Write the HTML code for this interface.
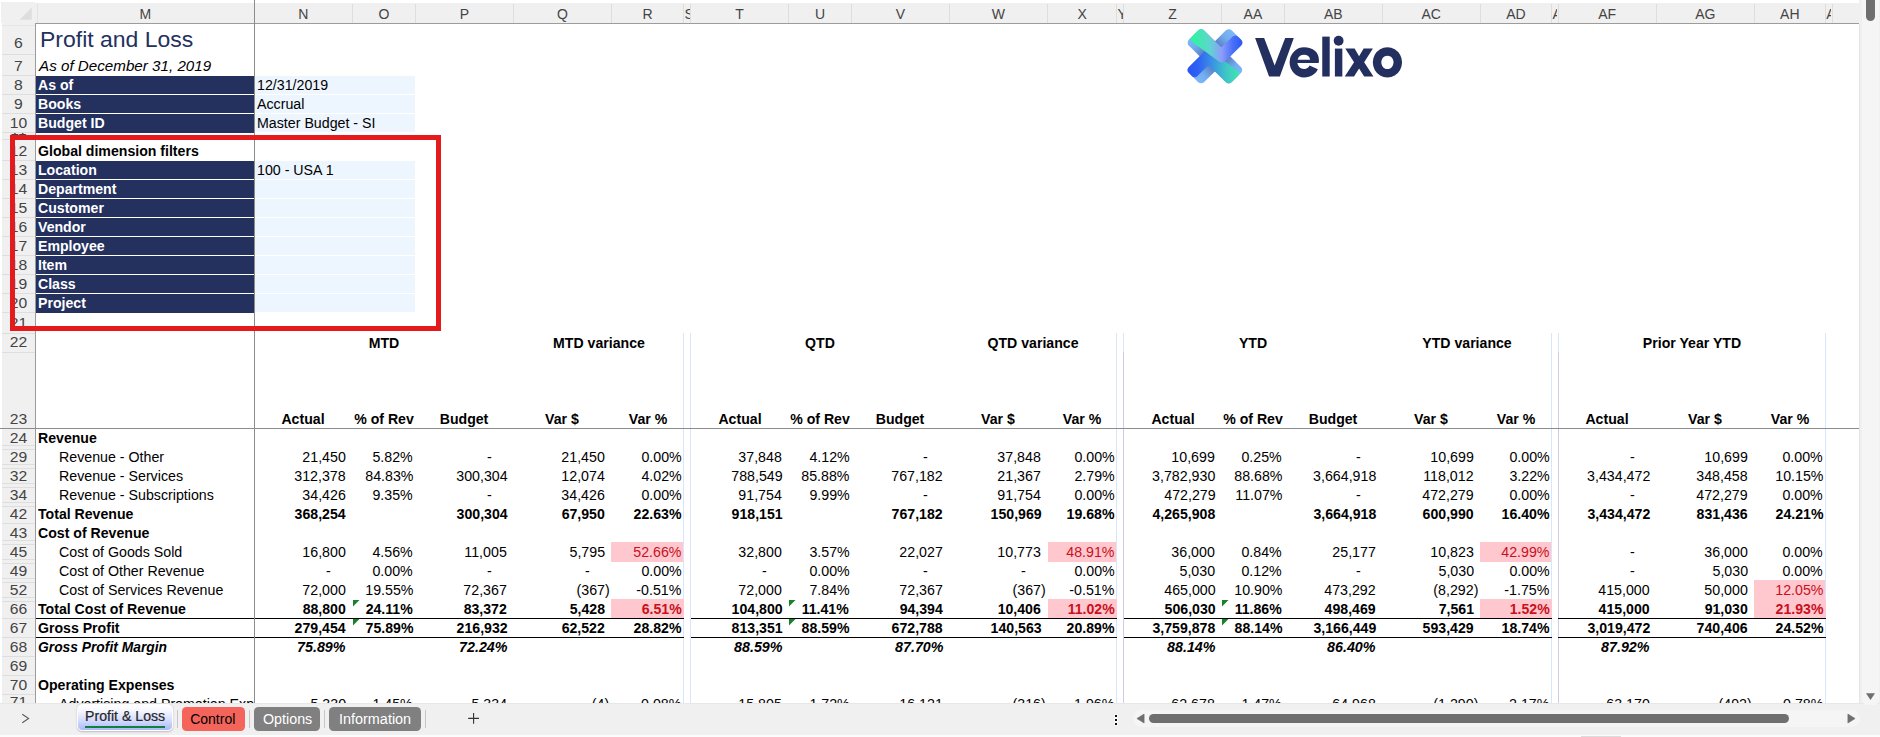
<!DOCTYPE html>
<html><head><meta charset="utf-8"><title>Profit and Loss</title>
<style>
html,body{margin:0;padding:0;background:#fff;}
body{width:1880px;height:737px;position:relative;overflow:hidden;font-family:"Liberation Sans",sans-serif;}
.r{position:absolute;}
.t{position:absolute;white-space:nowrap;}
#sheet{position:absolute;left:0;top:0;width:1858.5px;height:703px;overflow:hidden;}
.ch{position:absolute;top:3px;height:20px;display:flex;justify-content:center;overflow:hidden;font-size:14px;line-height:20px;color:#444;white-space:nowrap;}
.ch{padding-top:0.9px;box-sizing:border-box;}
.rh{position:absolute;left:2px;width:33px;overflow:hidden;font-size:14.4px;color:#444;text-align:center;}
.rh span{position:absolute;left:0px;width:33px;line-height:19px;transform:scaleX(1.09);transform-origin:50% 0;}
</style></head><body>
<div id="sheet">
<div class="r" style="left:36.00px;top:76.00px;width:218.50px;height:18.00px;background:#24315f;"></div>
<div class="r" style="left:255.00px;top:76.10px;width:159.90px;height:17.70px;background:#edf5ff;"></div>
<div class="t" style="top:77.00px;font-size:14px;line-height:16.00px;color:#fff;font-weight:bold;left:38.00px;transform:scaleX(1.008);transform-origin:0 0;">As of</div>
<div class="t" style="top:77.00px;font-size:14px;line-height:16.00px;color:#000;left:256.60px;transform:scaleX(1.015);transform-origin:0 0;">12/31/2019</div>
<div class="r" style="left:36.00px;top:95.00px;width:218.50px;height:18.00px;background:#24315f;"></div>
<div class="r" style="left:255.00px;top:95.10px;width:159.90px;height:17.70px;background:#edf5ff;"></div>
<div class="t" style="top:96.00px;font-size:14px;line-height:16.00px;color:#fff;font-weight:bold;left:38.00px;transform:scaleX(1.008);transform-origin:0 0;">Books</div>
<div class="t" style="top:96.00px;font-size:14px;line-height:16.00px;color:#000;left:256.60px;transform:scaleX(1.015);transform-origin:0 0;">Accrual</div>
<div class="r" style="left:36.00px;top:114.00px;width:218.50px;height:18.60px;background:#24315f;"></div>
<div class="r" style="left:255.00px;top:114.10px;width:159.90px;height:17.70px;background:#edf5ff;"></div>
<div class="t" style="top:115.00px;font-size:14px;line-height:16.00px;color:#fff;font-weight:bold;left:38.00px;transform:scaleX(1.008);transform-origin:0 0;">Budget ID</div>
<div class="t" style="top:115.00px;font-size:14px;line-height:16.00px;color:#000;left:256.60px;transform:scaleX(1.015);transform-origin:0 0;">Master Budget - SI</div>
<div class="r" style="left:36.00px;top:161.00px;width:218.50px;height:18.00px;background:#24315f;"></div>
<div class="r" style="left:255.00px;top:161.10px;width:159.90px;height:17.70px;background:#edf5ff;"></div>
<div class="t" style="top:162.00px;font-size:14px;line-height:16.00px;color:#fff;font-weight:bold;left:38.00px;transform:scaleX(1.008);transform-origin:0 0;">Location</div>
<div class="t" style="top:162.00px;font-size:14px;line-height:16.00px;color:#000;left:256.60px;transform:scaleX(1.015);transform-origin:0 0;">100 - USA 1</div>
<div class="r" style="left:36.00px;top:180.00px;width:218.50px;height:18.00px;background:#24315f;"></div>
<div class="r" style="left:255.00px;top:180.10px;width:159.90px;height:17.70px;background:#edf5ff;"></div>
<div class="t" style="top:181.00px;font-size:14px;line-height:16.00px;color:#fff;font-weight:bold;left:38.00px;transform:scaleX(1.008);transform-origin:0 0;">Department</div>
<div class="r" style="left:36.00px;top:199.00px;width:218.50px;height:18.00px;background:#24315f;"></div>
<div class="r" style="left:255.00px;top:199.10px;width:159.90px;height:17.70px;background:#edf5ff;"></div>
<div class="t" style="top:200.00px;font-size:14px;line-height:16.00px;color:#fff;font-weight:bold;left:38.00px;transform:scaleX(1.008);transform-origin:0 0;">Customer</div>
<div class="r" style="left:36.00px;top:218.00px;width:218.50px;height:18.00px;background:#24315f;"></div>
<div class="r" style="left:255.00px;top:218.10px;width:159.90px;height:17.70px;background:#edf5ff;"></div>
<div class="t" style="top:219.00px;font-size:14px;line-height:16.00px;color:#fff;font-weight:bold;left:38.00px;transform:scaleX(1.008);transform-origin:0 0;">Vendor</div>
<div class="r" style="left:36.00px;top:237.00px;width:218.50px;height:18.00px;background:#24315f;"></div>
<div class="r" style="left:255.00px;top:237.10px;width:159.90px;height:17.70px;background:#edf5ff;"></div>
<div class="t" style="top:238.00px;font-size:14px;line-height:16.00px;color:#fff;font-weight:bold;left:38.00px;transform:scaleX(1.008);transform-origin:0 0;">Employee</div>
<div class="r" style="left:36.00px;top:256.00px;width:218.50px;height:18.00px;background:#24315f;"></div>
<div class="r" style="left:255.00px;top:256.10px;width:159.90px;height:17.70px;background:#edf5ff;"></div>
<div class="t" style="top:257.00px;font-size:14px;line-height:16.00px;color:#fff;font-weight:bold;left:38.00px;transform:scaleX(1.008);transform-origin:0 0;">Item</div>
<div class="r" style="left:36.00px;top:275.00px;width:218.50px;height:18.00px;background:#24315f;"></div>
<div class="r" style="left:255.00px;top:275.10px;width:159.90px;height:17.70px;background:#edf5ff;"></div>
<div class="t" style="top:276.00px;font-size:14px;line-height:16.00px;color:#fff;font-weight:bold;left:38.00px;transform:scaleX(1.008);transform-origin:0 0;">Class</div>
<div class="r" style="left:36.00px;top:294.00px;width:218.50px;height:18.60px;background:#24315f;"></div>
<div class="r" style="left:255.00px;top:294.10px;width:159.90px;height:17.70px;background:#edf5ff;"></div>
<div class="t" style="top:295.00px;font-size:14px;line-height:16.00px;color:#fff;font-weight:bold;left:38.00px;transform:scaleX(1.008);transform-origin:0 0;">Project</div>
<div class="t" style="top:28.20px;font-size:21.3px;line-height:24.00px;color:#24315f;left:40.30px;transform:scaleX(1.079);transform-origin:0 0;">Profit and Loss</div>
<div class="t" style="top:58.00px;font-size:14.5px;line-height:16.00px;color:#000;font-style:italic;left:38.80px;transform:scaleX(1.047);transform-origin:0 0;">As of December 31, 2019</div>
<div class="t" style="top:142.70px;font-size:14px;line-height:16.00px;color:#000;font-weight:bold;left:38.00px;transform:scaleX(1.008);transform-origin:0 0;">Global dimension filters</div>
<div class="r" style="left:683.00px;top:333.00px;width:1.00px;height:387.00px;background:#d9e5fb;"></div>
<div class="r" style="left:689.80px;top:333.00px;width:1.00px;height:387.00px;background:#d9e5fb;"></div>
<div class="r" style="left:1115.90px;top:333.00px;width:1.00px;height:387.00px;background:#d9e5fb;"></div>
<div class="r" style="left:1122.80px;top:333.00px;width:1.00px;height:387.00px;background:#d9e5fb;"></div>
<div class="r" style="left:1550.90px;top:333.00px;width:1.00px;height:387.00px;background:#d9e5fb;"></div>
<div class="r" style="left:1557.50px;top:333.00px;width:1.00px;height:387.00px;background:#d9e5fb;"></div>
<div class="r" style="left:1824.80px;top:333.00px;width:1.00px;height:387.00px;background:#d9e5fb;"></div>
<div class="r" style="left:1122.80px;top:352.00px;width:1.00px;height:368.00px;background:#c9cee9;"></div>
<div class="r" style="left:1557.50px;top:352.00px;width:1.00px;height:368.00px;background:#c9cee9;"></div>
<div class="t" style="top:334.50px;font-size:14px;line-height:16.00px;color:#000;font-weight:bold;left:84.00px;width:600px;text-align:center;transform:scaleX(1.008);transform-origin:50% 0;">MTD</div>
<div class="t" style="top:334.50px;font-size:14px;line-height:16.00px;color:#000;font-weight:bold;left:298.60px;width:600px;text-align:center;transform:scaleX(1.008);transform-origin:50% 0;">MTD variance</div>
<div class="t" style="top:334.50px;font-size:14px;line-height:16.00px;color:#000;font-weight:bold;left:519.95px;width:600px;text-align:center;transform:scaleX(1.008);transform-origin:50% 0;">QTD</div>
<div class="t" style="top:334.50px;font-size:14px;line-height:16.00px;color:#000;font-weight:bold;left:733.00px;width:600px;text-align:center;transform:scaleX(1.008);transform-origin:50% 0;">QTD variance</div>
<div class="t" style="top:334.50px;font-size:14px;line-height:16.00px;color:#000;font-weight:bold;left:952.85px;width:600px;text-align:center;transform:scaleX(1.008);transform-origin:50% 0;">YTD</div>
<div class="t" style="top:334.50px;font-size:14px;line-height:16.00px;color:#000;font-weight:bold;left:1166.90px;width:600px;text-align:center;transform:scaleX(1.008);transform-origin:50% 0;">YTD variance</div>
<div class="t" style="top:334.50px;font-size:14px;line-height:16.00px;color:#000;font-weight:bold;left:1391.80px;width:600px;text-align:center;transform:scaleX(1.008);transform-origin:50% 0;">Prior Year YTD</div>
<div class="t" style="top:411.00px;font-size:14px;line-height:16.00px;color:#000;font-weight:bold;left:3.40px;width:600px;text-align:center;transform:scaleX(1.008);transform-origin:50% 0;">Actual</div>
<div class="t" style="top:411.00px;font-size:14px;line-height:16.00px;color:#000;font-weight:bold;left:83.85px;width:600px;text-align:center;transform:scaleX(1.008);transform-origin:50% 0;">% of Rev</div>
<div class="t" style="top:411.00px;font-size:14px;line-height:16.00px;color:#000;font-weight:bold;left:164.45px;width:600px;text-align:center;transform:scaleX(1.008);transform-origin:50% 0;">Budget</div>
<div class="t" style="top:411.00px;font-size:14px;line-height:16.00px;color:#000;font-weight:bold;left:262.45px;width:600px;text-align:center;transform:scaleX(1.008);transform-origin:50% 0;">Var $</div>
<div class="t" style="top:411.00px;font-size:14px;line-height:16.00px;color:#000;font-weight:bold;left:347.55px;width:600px;text-align:center;transform:scaleX(1.008);transform-origin:50% 0;">Var %</div>
<div class="t" style="top:411.00px;font-size:14px;line-height:16.00px;color:#000;font-weight:bold;left:439.50px;width:600px;text-align:center;transform:scaleX(1.008);transform-origin:50% 0;">Actual</div>
<div class="t" style="top:411.00px;font-size:14px;line-height:16.00px;color:#000;font-weight:bold;left:520.00px;width:600px;text-align:center;transform:scaleX(1.008);transform-origin:50% 0;">% of Rev</div>
<div class="t" style="top:411.00px;font-size:14px;line-height:16.00px;color:#000;font-weight:bold;left:600.45px;width:600px;text-align:center;transform:scaleX(1.008);transform-origin:50% 0;">Budget</div>
<div class="t" style="top:411.00px;font-size:14px;line-height:16.00px;color:#000;font-weight:bold;left:698.45px;width:600px;text-align:center;transform:scaleX(1.008);transform-origin:50% 0;">Var $</div>
<div class="t" style="top:411.00px;font-size:14px;line-height:16.00px;color:#000;font-weight:bold;left:782.05px;width:600px;text-align:center;transform:scaleX(1.008);transform-origin:50% 0;">Var %</div>
<div class="t" style="top:411.00px;font-size:14px;line-height:16.00px;color:#000;font-weight:bold;left:872.50px;width:600px;text-align:center;transform:scaleX(1.008);transform-origin:50% 0;">Actual</div>
<div class="t" style="top:411.00px;font-size:14px;line-height:16.00px;color:#000;font-weight:bold;left:952.90px;width:600px;text-align:center;transform:scaleX(1.008);transform-origin:50% 0;">% of Rev</div>
<div class="t" style="top:411.00px;font-size:14px;line-height:16.00px;color:#000;font-weight:bold;left:1033.25px;width:600px;text-align:center;transform:scaleX(1.008);transform-origin:50% 0;">Budget</div>
<div class="t" style="top:411.00px;font-size:14px;line-height:16.00px;color:#000;font-weight:bold;left:1131.25px;width:600px;text-align:center;transform:scaleX(1.008);transform-origin:50% 0;">Var $</div>
<div class="t" style="top:411.00px;font-size:14px;line-height:16.00px;color:#000;font-weight:bold;left:1215.95px;width:600px;text-align:center;transform:scaleX(1.008);transform-origin:50% 0;">Var %</div>
<div class="t" style="top:411.00px;font-size:14px;line-height:16.00px;color:#000;font-weight:bold;left:1307.25px;width:600px;text-align:center;transform:scaleX(1.008);transform-origin:50% 0;">Actual</div>
<div class="t" style="top:411.00px;font-size:14px;line-height:16.00px;color:#000;font-weight:bold;left:1405.30px;width:600px;text-align:center;transform:scaleX(1.008);transform-origin:50% 0;">Var $</div>
<div class="t" style="top:411.00px;font-size:14px;line-height:16.00px;color:#000;font-weight:bold;left:1489.85px;width:600px;text-align:center;transform:scaleX(1.008);transform-origin:50% 0;">Var %</div>
<div class="t" style="top:430.00px;font-size:14px;line-height:16.00px;color:#000;font-weight:bold;left:38.00px;transform:scaleX(1.008);transform-origin:0 0;">Revenue</div>
<div class="t" style="top:449.00px;font-size:14px;line-height:16.00px;color:#000;left:59.00px;transform:scaleX(1.015);transform-origin:0 0;">Revenue - Other</div>
<div class="t" style="top:449.00px;font-size:14px;line-height:16.00px;color:#000;right:1512.60px;transform:scaleX(1.015);transform-origin:100% 0;">21,450</div>
<div class="t" style="top:449.00px;font-size:14px;line-height:16.00px;color:#000;right:1445.40px;transform:scaleX(1.015);transform-origin:100% 0;">5.82%</div>
<div class="t" style="top:449.00px;font-size:14px;line-height:16.00px;color:#000;right:1367.00px;transform:scaleX(1.015);transform-origin:100% 0;">-</div>
<div class="t" style="top:449.00px;font-size:14px;line-height:16.00px;color:#000;right:1253.50px;transform:scaleX(1.015);transform-origin:100% 0;">21,450</div>
<div class="t" style="top:449.00px;font-size:14px;line-height:16.00px;color:#000;right:1177.10px;transform:scaleX(1.015);transform-origin:100% 0;">0.00%</div>
<div class="t" style="top:449.00px;font-size:14px;line-height:16.00px;color:#000;right:1076.40px;transform:scaleX(1.015);transform-origin:100% 0;">37,848</div>
<div class="t" style="top:449.00px;font-size:14px;line-height:16.00px;color:#000;right:1009.30px;transform:scaleX(1.015);transform-origin:100% 0;">4.12%</div>
<div class="t" style="top:449.00px;font-size:14px;line-height:16.00px;color:#000;right:931.10px;transform:scaleX(1.015);transform-origin:100% 0;">-</div>
<div class="t" style="top:449.00px;font-size:14px;line-height:16.00px;color:#000;right:817.40px;transform:scaleX(1.015);transform-origin:100% 0;">37,848</div>
<div class="t" style="top:449.00px;font-size:14px;line-height:16.00px;color:#000;right:744.20px;transform:scaleX(1.015);transform-origin:100% 0;">0.00%</div>
<div class="t" style="top:449.00px;font-size:14px;line-height:16.00px;color:#000;right:643.40px;transform:scaleX(1.015);transform-origin:100% 0;">10,699</div>
<div class="t" style="top:449.00px;font-size:14px;line-height:16.00px;color:#000;right:576.50px;transform:scaleX(1.015);transform-origin:100% 0;">0.25%</div>
<div class="t" style="top:449.00px;font-size:14px;line-height:16.00px;color:#000;right:498.30px;transform:scaleX(1.015);transform-origin:100% 0;">-</div>
<div class="t" style="top:449.00px;font-size:14px;line-height:16.00px;color:#000;right:384.60px;transform:scaleX(1.015);transform-origin:100% 0;">10,699</div>
<div class="t" style="top:449.00px;font-size:14px;line-height:16.00px;color:#000;right:309.20px;transform:scaleX(1.015);transform-origin:100% 0;">0.00%</div>
<div class="t" style="top:449.00px;font-size:14px;line-height:16.00px;color:#000;right:224.20px;transform:scaleX(1.015);transform-origin:100% 0;">-</div>
<div class="t" style="top:449.00px;font-size:14px;line-height:16.00px;color:#000;right:110.60px;transform:scaleX(1.015);transform-origin:100% 0;">10,699</div>
<div class="t" style="top:449.00px;font-size:14px;line-height:16.00px;color:#000;right:35.40px;transform:scaleX(1.015);transform-origin:100% 0;">0.00%</div>
<div class="t" style="top:468.00px;font-size:14px;line-height:16.00px;color:#000;left:59.00px;transform:scaleX(1.015);transform-origin:0 0;">Revenue - Services</div>
<div class="t" style="top:468.00px;font-size:14px;line-height:16.00px;color:#000;right:1512.60px;transform:scaleX(1.015);transform-origin:100% 0;">312,378</div>
<div class="t" style="top:468.00px;font-size:14px;line-height:16.00px;color:#000;right:1445.40px;transform:scaleX(1.015);transform-origin:100% 0;">84.83%</div>
<div class="t" style="top:468.00px;font-size:14px;line-height:16.00px;color:#000;right:1351.40px;transform:scaleX(1.015);transform-origin:100% 0;">300,304</div>
<div class="t" style="top:468.00px;font-size:14px;line-height:16.00px;color:#000;right:1253.50px;transform:scaleX(1.015);transform-origin:100% 0;">12,074</div>
<div class="t" style="top:468.00px;font-size:14px;line-height:16.00px;color:#000;right:1177.10px;transform:scaleX(1.015);transform-origin:100% 0;">4.02%</div>
<div class="t" style="top:468.00px;font-size:14px;line-height:16.00px;color:#000;right:1076.40px;transform:scaleX(1.015);transform-origin:100% 0;">788,549</div>
<div class="t" style="top:468.00px;font-size:14px;line-height:16.00px;color:#000;right:1009.30px;transform:scaleX(1.015);transform-origin:100% 0;">85.88%</div>
<div class="t" style="top:468.00px;font-size:14px;line-height:16.00px;color:#000;right:915.50px;transform:scaleX(1.015);transform-origin:100% 0;">767,182</div>
<div class="t" style="top:468.00px;font-size:14px;line-height:16.00px;color:#000;right:817.40px;transform:scaleX(1.015);transform-origin:100% 0;">21,367</div>
<div class="t" style="top:468.00px;font-size:14px;line-height:16.00px;color:#000;right:744.20px;transform:scaleX(1.015);transform-origin:100% 0;">2.79%</div>
<div class="t" style="top:468.00px;font-size:14px;line-height:16.00px;color:#000;right:643.40px;transform:scaleX(1.015);transform-origin:100% 0;">3,782,930</div>
<div class="t" style="top:468.00px;font-size:14px;line-height:16.00px;color:#000;right:576.50px;transform:scaleX(1.015);transform-origin:100% 0;">88.68%</div>
<div class="t" style="top:468.00px;font-size:14px;line-height:16.00px;color:#000;right:482.70px;transform:scaleX(1.015);transform-origin:100% 0;">3,664,918</div>
<div class="t" style="top:468.00px;font-size:14px;line-height:16.00px;color:#000;right:384.60px;transform:scaleX(1.015);transform-origin:100% 0;">118,012</div>
<div class="t" style="top:468.00px;font-size:14px;line-height:16.00px;color:#000;right:309.20px;transform:scaleX(1.015);transform-origin:100% 0;">3.22%</div>
<div class="t" style="top:468.00px;font-size:14px;line-height:16.00px;color:#000;right:208.60px;transform:scaleX(1.015);transform-origin:100% 0;">3,434,472</div>
<div class="t" style="top:468.00px;font-size:14px;line-height:16.00px;color:#000;right:110.60px;transform:scaleX(1.015);transform-origin:100% 0;">348,458</div>
<div class="t" style="top:468.00px;font-size:14px;line-height:16.00px;color:#000;right:35.40px;transform:scaleX(1.015);transform-origin:100% 0;">10.15%</div>
<div class="t" style="top:487.00px;font-size:14px;line-height:16.00px;color:#000;left:59.00px;transform:scaleX(1.015);transform-origin:0 0;">Revenue - Subscriptions</div>
<div class="t" style="top:487.00px;font-size:14px;line-height:16.00px;color:#000;right:1512.60px;transform:scaleX(1.015);transform-origin:100% 0;">34,426</div>
<div class="t" style="top:487.00px;font-size:14px;line-height:16.00px;color:#000;right:1445.40px;transform:scaleX(1.015);transform-origin:100% 0;">9.35%</div>
<div class="t" style="top:487.00px;font-size:14px;line-height:16.00px;color:#000;right:1367.00px;transform:scaleX(1.015);transform-origin:100% 0;">-</div>
<div class="t" style="top:487.00px;font-size:14px;line-height:16.00px;color:#000;right:1253.50px;transform:scaleX(1.015);transform-origin:100% 0;">34,426</div>
<div class="t" style="top:487.00px;font-size:14px;line-height:16.00px;color:#000;right:1177.10px;transform:scaleX(1.015);transform-origin:100% 0;">0.00%</div>
<div class="t" style="top:487.00px;font-size:14px;line-height:16.00px;color:#000;right:1076.40px;transform:scaleX(1.015);transform-origin:100% 0;">91,754</div>
<div class="t" style="top:487.00px;font-size:14px;line-height:16.00px;color:#000;right:1009.30px;transform:scaleX(1.015);transform-origin:100% 0;">9.99%</div>
<div class="t" style="top:487.00px;font-size:14px;line-height:16.00px;color:#000;right:931.10px;transform:scaleX(1.015);transform-origin:100% 0;">-</div>
<div class="t" style="top:487.00px;font-size:14px;line-height:16.00px;color:#000;right:817.40px;transform:scaleX(1.015);transform-origin:100% 0;">91,754</div>
<div class="t" style="top:487.00px;font-size:14px;line-height:16.00px;color:#000;right:744.20px;transform:scaleX(1.015);transform-origin:100% 0;">0.00%</div>
<div class="t" style="top:487.00px;font-size:14px;line-height:16.00px;color:#000;right:643.40px;transform:scaleX(1.015);transform-origin:100% 0;">472,279</div>
<div class="t" style="top:487.00px;font-size:14px;line-height:16.00px;color:#000;right:576.50px;transform:scaleX(1.015);transform-origin:100% 0;">11.07%</div>
<div class="t" style="top:487.00px;font-size:14px;line-height:16.00px;color:#000;right:498.30px;transform:scaleX(1.015);transform-origin:100% 0;">-</div>
<div class="t" style="top:487.00px;font-size:14px;line-height:16.00px;color:#000;right:384.60px;transform:scaleX(1.015);transform-origin:100% 0;">472,279</div>
<div class="t" style="top:487.00px;font-size:14px;line-height:16.00px;color:#000;right:309.20px;transform:scaleX(1.015);transform-origin:100% 0;">0.00%</div>
<div class="t" style="top:487.00px;font-size:14px;line-height:16.00px;color:#000;right:224.20px;transform:scaleX(1.015);transform-origin:100% 0;">-</div>
<div class="t" style="top:487.00px;font-size:14px;line-height:16.00px;color:#000;right:110.60px;transform:scaleX(1.015);transform-origin:100% 0;">472,279</div>
<div class="t" style="top:487.00px;font-size:14px;line-height:16.00px;color:#000;right:35.40px;transform:scaleX(1.015);transform-origin:100% 0;">0.00%</div>
<div class="t" style="top:506.00px;font-size:14px;line-height:16.00px;color:#000;font-weight:bold;left:38.00px;transform:scaleX(1.008);transform-origin:0 0;">Total Revenue</div>
<div class="t" style="top:506.00px;font-size:14px;line-height:16.00px;color:#000;font-weight:bold;right:1512.60px;transform:scaleX(1.008);transform-origin:100% 0;">368,254</div>
<div class="t" style="top:506.00px;font-size:14px;line-height:16.00px;color:#000;font-weight:bold;right:1351.40px;transform:scaleX(1.008);transform-origin:100% 0;">300,304</div>
<div class="t" style="top:506.00px;font-size:14px;line-height:16.00px;color:#000;font-weight:bold;right:1253.50px;transform:scaleX(1.008);transform-origin:100% 0;">67,950</div>
<div class="t" style="top:506.00px;font-size:14px;line-height:16.00px;color:#000;font-weight:bold;right:1177.10px;transform:scaleX(1.008);transform-origin:100% 0;">22.63%</div>
<div class="t" style="top:506.00px;font-size:14px;line-height:16.00px;color:#000;font-weight:bold;right:1076.40px;transform:scaleX(1.008);transform-origin:100% 0;">918,151</div>
<div class="t" style="top:506.00px;font-size:14px;line-height:16.00px;color:#000;font-weight:bold;right:915.50px;transform:scaleX(1.008);transform-origin:100% 0;">767,182</div>
<div class="t" style="top:506.00px;font-size:14px;line-height:16.00px;color:#000;font-weight:bold;right:817.40px;transform:scaleX(1.008);transform-origin:100% 0;">150,969</div>
<div class="t" style="top:506.00px;font-size:14px;line-height:16.00px;color:#000;font-weight:bold;right:744.20px;transform:scaleX(1.008);transform-origin:100% 0;">19.68%</div>
<div class="t" style="top:506.00px;font-size:14px;line-height:16.00px;color:#000;font-weight:bold;right:643.40px;transform:scaleX(1.008);transform-origin:100% 0;">4,265,908</div>
<div class="t" style="top:506.00px;font-size:14px;line-height:16.00px;color:#000;font-weight:bold;right:482.70px;transform:scaleX(1.008);transform-origin:100% 0;">3,664,918</div>
<div class="t" style="top:506.00px;font-size:14px;line-height:16.00px;color:#000;font-weight:bold;right:384.60px;transform:scaleX(1.008);transform-origin:100% 0;">600,990</div>
<div class="t" style="top:506.00px;font-size:14px;line-height:16.00px;color:#000;font-weight:bold;right:309.20px;transform:scaleX(1.008);transform-origin:100% 0;">16.40%</div>
<div class="t" style="top:506.00px;font-size:14px;line-height:16.00px;color:#000;font-weight:bold;right:208.60px;transform:scaleX(1.008);transform-origin:100% 0;">3,434,472</div>
<div class="t" style="top:506.00px;font-size:14px;line-height:16.00px;color:#000;font-weight:bold;right:110.60px;transform:scaleX(1.008);transform-origin:100% 0;">831,436</div>
<div class="t" style="top:506.00px;font-size:14px;line-height:16.00px;color:#000;font-weight:bold;right:35.40px;transform:scaleX(1.008);transform-origin:100% 0;">24.21%</div>
<div class="t" style="top:525.00px;font-size:14px;line-height:16.00px;color:#000;font-weight:bold;left:38.00px;transform:scaleX(1.008);transform-origin:0 0;">Cost of Revenue</div>
<div class="t" style="top:544.00px;font-size:14px;line-height:16.00px;color:#000;left:59.00px;transform:scaleX(1.015);transform-origin:0 0;">Cost of Goods Sold</div>
<div class="t" style="top:544.00px;font-size:14px;line-height:16.00px;color:#000;right:1512.60px;transform:scaleX(1.015);transform-origin:100% 0;">16,800</div>
<div class="t" style="top:544.00px;font-size:14px;line-height:16.00px;color:#000;right:1445.40px;transform:scaleX(1.015);transform-origin:100% 0;">4.56%</div>
<div class="t" style="top:544.00px;font-size:14px;line-height:16.00px;color:#000;right:1351.40px;transform:scaleX(1.015);transform-origin:100% 0;">11,005</div>
<div class="t" style="top:544.00px;font-size:14px;line-height:16.00px;color:#000;right:1253.50px;transform:scaleX(1.015);transform-origin:100% 0;">5,795</div>
<div class="r" style="left:611.40px;top:542.10px;width:71.80px;height:19.70px;background:#ffc7ce;"></div>
<div class="t" style="top:544.00px;font-size:14px;line-height:16.00px;color:#c9101c;right:1177.10px;transform:scaleX(1.015);transform-origin:100% 0;">52.66%</div>
<div class="t" style="top:544.00px;font-size:14px;line-height:16.00px;color:#000;right:1076.40px;transform:scaleX(1.015);transform-origin:100% 0;">32,800</div>
<div class="t" style="top:544.00px;font-size:14px;line-height:16.00px;color:#000;right:1009.30px;transform:scaleX(1.015);transform-origin:100% 0;">3.57%</div>
<div class="t" style="top:544.00px;font-size:14px;line-height:16.00px;color:#000;right:915.50px;transform:scaleX(1.015);transform-origin:100% 0;">22,027</div>
<div class="t" style="top:544.00px;font-size:14px;line-height:16.00px;color:#000;right:817.40px;transform:scaleX(1.015);transform-origin:100% 0;">10,773</div>
<div class="r" style="left:1047.50px;top:542.10px;width:68.60px;height:19.70px;background:#ffc7ce;"></div>
<div class="t" style="top:544.00px;font-size:14px;line-height:16.00px;color:#c9101c;right:744.20px;transform:scaleX(1.015);transform-origin:100% 0;">48.91%</div>
<div class="t" style="top:544.00px;font-size:14px;line-height:16.00px;color:#000;right:643.40px;transform:scaleX(1.015);transform-origin:100% 0;">36,000</div>
<div class="t" style="top:544.00px;font-size:14px;line-height:16.00px;color:#000;right:576.50px;transform:scaleX(1.015);transform-origin:100% 0;">0.84%</div>
<div class="t" style="top:544.00px;font-size:14px;line-height:16.00px;color:#000;right:482.70px;transform:scaleX(1.015);transform-origin:100% 0;">25,177</div>
<div class="t" style="top:544.00px;font-size:14px;line-height:16.00px;color:#000;right:384.60px;transform:scaleX(1.015);transform-origin:100% 0;">10,823</div>
<div class="r" style="left:1480.30px;top:542.10px;width:70.80px;height:19.70px;background:#ffc7ce;"></div>
<div class="t" style="top:544.00px;font-size:14px;line-height:16.00px;color:#c9101c;right:309.20px;transform:scaleX(1.015);transform-origin:100% 0;">42.99%</div>
<div class="t" style="top:544.00px;font-size:14px;line-height:16.00px;color:#000;right:224.20px;transform:scaleX(1.015);transform-origin:100% 0;">-</div>
<div class="t" style="top:544.00px;font-size:14px;line-height:16.00px;color:#000;right:110.60px;transform:scaleX(1.015);transform-origin:100% 0;">36,000</div>
<div class="t" style="top:544.00px;font-size:14px;line-height:16.00px;color:#000;right:35.40px;transform:scaleX(1.015);transform-origin:100% 0;">0.00%</div>
<div class="t" style="top:563.00px;font-size:14px;line-height:16.00px;color:#000;left:59.00px;transform:scaleX(1.015);transform-origin:0 0;">Cost of Other Revenue</div>
<div class="t" style="top:563.00px;font-size:14px;line-height:16.00px;color:#000;right:1528.20px;transform:scaleX(1.015);transform-origin:100% 0;">-</div>
<div class="t" style="top:563.00px;font-size:14px;line-height:16.00px;color:#000;right:1445.40px;transform:scaleX(1.015);transform-origin:100% 0;">0.00%</div>
<div class="t" style="top:563.00px;font-size:14px;line-height:16.00px;color:#000;right:1367.00px;transform:scaleX(1.015);transform-origin:100% 0;">-</div>
<div class="t" style="top:563.00px;font-size:14px;line-height:16.00px;color:#000;right:1269.10px;transform:scaleX(1.015);transform-origin:100% 0;">-</div>
<div class="t" style="top:563.00px;font-size:14px;line-height:16.00px;color:#000;right:1177.10px;transform:scaleX(1.015);transform-origin:100% 0;">0.00%</div>
<div class="t" style="top:563.00px;font-size:14px;line-height:16.00px;color:#000;right:1092.00px;transform:scaleX(1.015);transform-origin:100% 0;">-</div>
<div class="t" style="top:563.00px;font-size:14px;line-height:16.00px;color:#000;right:1009.30px;transform:scaleX(1.015);transform-origin:100% 0;">0.00%</div>
<div class="t" style="top:563.00px;font-size:14px;line-height:16.00px;color:#000;right:931.10px;transform:scaleX(1.015);transform-origin:100% 0;">-</div>
<div class="t" style="top:563.00px;font-size:14px;line-height:16.00px;color:#000;right:833.00px;transform:scaleX(1.015);transform-origin:100% 0;">-</div>
<div class="t" style="top:563.00px;font-size:14px;line-height:16.00px;color:#000;right:744.20px;transform:scaleX(1.015);transform-origin:100% 0;">0.00%</div>
<div class="t" style="top:563.00px;font-size:14px;line-height:16.00px;color:#000;right:643.40px;transform:scaleX(1.015);transform-origin:100% 0;">5,030</div>
<div class="t" style="top:563.00px;font-size:14px;line-height:16.00px;color:#000;right:576.50px;transform:scaleX(1.015);transform-origin:100% 0;">0.12%</div>
<div class="t" style="top:563.00px;font-size:14px;line-height:16.00px;color:#000;right:498.30px;transform:scaleX(1.015);transform-origin:100% 0;">-</div>
<div class="t" style="top:563.00px;font-size:14px;line-height:16.00px;color:#000;right:384.60px;transform:scaleX(1.015);transform-origin:100% 0;">5,030</div>
<div class="t" style="top:563.00px;font-size:14px;line-height:16.00px;color:#000;right:309.20px;transform:scaleX(1.015);transform-origin:100% 0;">0.00%</div>
<div class="t" style="top:563.00px;font-size:14px;line-height:16.00px;color:#000;right:224.20px;transform:scaleX(1.015);transform-origin:100% 0;">-</div>
<div class="t" style="top:563.00px;font-size:14px;line-height:16.00px;color:#000;right:110.60px;transform:scaleX(1.015);transform-origin:100% 0;">5,030</div>
<div class="t" style="top:563.00px;font-size:14px;line-height:16.00px;color:#000;right:35.40px;transform:scaleX(1.015);transform-origin:100% 0;">0.00%</div>
<div class="t" style="top:582.00px;font-size:14px;line-height:16.00px;color:#000;left:59.00px;transform:scaleX(1.015);transform-origin:0 0;">Cost of Services Revenue</div>
<div class="t" style="top:582.00px;font-size:14px;line-height:16.00px;color:#000;right:1512.60px;transform:scaleX(1.015);transform-origin:100% 0;">72,000</div>
<div class="t" style="top:582.00px;font-size:14px;line-height:16.00px;color:#000;right:1445.40px;transform:scaleX(1.015);transform-origin:100% 0;">19.55%</div>
<div class="t" style="top:582.00px;font-size:14px;line-height:16.00px;color:#000;right:1351.40px;transform:scaleX(1.015);transform-origin:100% 0;">72,367</div>
<div class="t" style="top:582.00px;font-size:14px;line-height:16.00px;color:#000;right:1249.30px;transform:scaleX(1.015);transform-origin:100% 0;">(367)</div>
<div class="t" style="top:582.00px;font-size:14px;line-height:16.00px;color:#000;right:1177.10px;transform:scaleX(1.015);transform-origin:100% 0;">-0.51%</div>
<div class="t" style="top:582.00px;font-size:14px;line-height:16.00px;color:#000;right:1076.40px;transform:scaleX(1.015);transform-origin:100% 0;">72,000</div>
<div class="t" style="top:582.00px;font-size:14px;line-height:16.00px;color:#000;right:1009.30px;transform:scaleX(1.015);transform-origin:100% 0;">7.84%</div>
<div class="t" style="top:582.00px;font-size:14px;line-height:16.00px;color:#000;right:915.50px;transform:scaleX(1.015);transform-origin:100% 0;">72,367</div>
<div class="t" style="top:582.00px;font-size:14px;line-height:16.00px;color:#000;right:813.20px;transform:scaleX(1.015);transform-origin:100% 0;">(367)</div>
<div class="t" style="top:582.00px;font-size:14px;line-height:16.00px;color:#000;right:744.20px;transform:scaleX(1.015);transform-origin:100% 0;">-0.51%</div>
<div class="t" style="top:582.00px;font-size:14px;line-height:16.00px;color:#000;right:643.40px;transform:scaleX(1.015);transform-origin:100% 0;">465,000</div>
<div class="t" style="top:582.00px;font-size:14px;line-height:16.00px;color:#000;right:576.50px;transform:scaleX(1.015);transform-origin:100% 0;">10.90%</div>
<div class="t" style="top:582.00px;font-size:14px;line-height:16.00px;color:#000;right:482.70px;transform:scaleX(1.015);transform-origin:100% 0;">473,292</div>
<div class="t" style="top:582.00px;font-size:14px;line-height:16.00px;color:#000;right:380.40px;transform:scaleX(1.015);transform-origin:100% 0;">(8,292)</div>
<div class="t" style="top:582.00px;font-size:14px;line-height:16.00px;color:#000;right:309.20px;transform:scaleX(1.015);transform-origin:100% 0;">-1.75%</div>
<div class="t" style="top:582.00px;font-size:14px;line-height:16.00px;color:#000;right:208.60px;transform:scaleX(1.015);transform-origin:100% 0;">415,000</div>
<div class="t" style="top:582.00px;font-size:14px;line-height:16.00px;color:#000;right:110.60px;transform:scaleX(1.015);transform-origin:100% 0;">50,000</div>
<div class="r" style="left:1754.30px;top:580.10px;width:70.60px;height:19.70px;background:#ffc7ce;"></div>
<div class="t" style="top:582.00px;font-size:14px;line-height:16.00px;color:#c9101c;right:35.40px;transform:scaleX(1.015);transform-origin:100% 0;">12.05%</div>
<div class="t" style="top:601.00px;font-size:14px;line-height:16.00px;color:#000;font-weight:bold;left:38.00px;transform:scaleX(1.008);transform-origin:0 0;">Total Cost of Revenue</div>
<div class="t" style="top:601.00px;font-size:14px;line-height:16.00px;color:#000;font-weight:bold;right:1512.60px;transform:scaleX(1.008);transform-origin:100% 0;">88,800</div>
<div class="t" style="top:601.00px;font-size:14px;line-height:16.00px;color:#000;font-weight:bold;right:1445.40px;transform:scaleX(1.008);transform-origin:100% 0;">24.11%</div>
<div class="t" style="top:601.00px;font-size:14px;line-height:16.00px;color:#000;font-weight:bold;right:1351.40px;transform:scaleX(1.008);transform-origin:100% 0;">83,372</div>
<div class="t" style="top:601.00px;font-size:14px;line-height:16.00px;color:#000;font-weight:bold;right:1253.50px;transform:scaleX(1.008);transform-origin:100% 0;">5,428</div>
<div class="r" style="left:611.40px;top:599.10px;width:72.90px;height:19.70px;background:#ffc7ce;"></div>
<div class="t" style="top:601.00px;font-size:14px;line-height:16.00px;color:#c9101c;font-weight:bold;right:1177.10px;transform:scaleX(1.008);transform-origin:100% 0;">6.51%</div>
<div class="t" style="top:601.00px;font-size:14px;line-height:16.00px;color:#000;font-weight:bold;right:1076.40px;transform:scaleX(1.008);transform-origin:100% 0;">104,800</div>
<div class="t" style="top:601.00px;font-size:14px;line-height:16.00px;color:#000;font-weight:bold;right:1009.30px;transform:scaleX(1.008);transform-origin:100% 0;">11.41%</div>
<div class="t" style="top:601.00px;font-size:14px;line-height:16.00px;color:#000;font-weight:bold;right:915.50px;transform:scaleX(1.008);transform-origin:100% 0;">94,394</div>
<div class="t" style="top:601.00px;font-size:14px;line-height:16.00px;color:#000;font-weight:bold;right:817.40px;transform:scaleX(1.008);transform-origin:100% 0;">10,406</div>
<div class="r" style="left:1047.50px;top:599.10px;width:69.70px;height:19.70px;background:#ffc7ce;"></div>
<div class="t" style="top:601.00px;font-size:14px;line-height:16.00px;color:#c9101c;font-weight:bold;right:744.20px;transform:scaleX(1.008);transform-origin:100% 0;">11.02%</div>
<div class="t" style="top:601.00px;font-size:14px;line-height:16.00px;color:#000;font-weight:bold;right:643.40px;transform:scaleX(1.008);transform-origin:100% 0;">506,030</div>
<div class="t" style="top:601.00px;font-size:14px;line-height:16.00px;color:#000;font-weight:bold;right:576.50px;transform:scaleX(1.008);transform-origin:100% 0;">11.86%</div>
<div class="t" style="top:601.00px;font-size:14px;line-height:16.00px;color:#000;font-weight:bold;right:482.70px;transform:scaleX(1.008);transform-origin:100% 0;">498,469</div>
<div class="t" style="top:601.00px;font-size:14px;line-height:16.00px;color:#000;font-weight:bold;right:384.60px;transform:scaleX(1.008);transform-origin:100% 0;">7,561</div>
<div class="r" style="left:1480.30px;top:599.10px;width:71.90px;height:19.70px;background:#ffc7ce;"></div>
<div class="t" style="top:601.00px;font-size:14px;line-height:16.00px;color:#c9101c;font-weight:bold;right:309.20px;transform:scaleX(1.008);transform-origin:100% 0;">1.52%</div>
<div class="t" style="top:601.00px;font-size:14px;line-height:16.00px;color:#000;font-weight:bold;right:208.60px;transform:scaleX(1.008);transform-origin:100% 0;">415,000</div>
<div class="t" style="top:601.00px;font-size:14px;line-height:16.00px;color:#000;font-weight:bold;right:110.60px;transform:scaleX(1.008);transform-origin:100% 0;">91,030</div>
<div class="r" style="left:1754.30px;top:599.10px;width:71.70px;height:19.70px;background:#ffc7ce;"></div>
<div class="t" style="top:601.00px;font-size:14px;line-height:16.00px;color:#c9101c;font-weight:bold;right:35.40px;transform:scaleX(1.008);transform-origin:100% 0;">21.93%</div>
<div class="t" style="top:620.00px;font-size:14px;line-height:16.00px;color:#000;font-weight:bold;left:38.00px;transform:scaleX(1.008);transform-origin:0 0;">Gross Profit</div>
<div class="t" style="top:620.00px;font-size:14px;line-height:16.00px;color:#000;font-weight:bold;right:1512.60px;transform:scaleX(1.008);transform-origin:100% 0;">279,454</div>
<div class="t" style="top:620.00px;font-size:14px;line-height:16.00px;color:#000;font-weight:bold;right:1445.40px;transform:scaleX(1.008);transform-origin:100% 0;">75.89%</div>
<div class="t" style="top:620.00px;font-size:14px;line-height:16.00px;color:#000;font-weight:bold;right:1351.40px;transform:scaleX(1.008);transform-origin:100% 0;">216,932</div>
<div class="t" style="top:620.00px;font-size:14px;line-height:16.00px;color:#000;font-weight:bold;right:1253.50px;transform:scaleX(1.008);transform-origin:100% 0;">62,522</div>
<div class="t" style="top:620.00px;font-size:14px;line-height:16.00px;color:#000;font-weight:bold;right:1177.10px;transform:scaleX(1.008);transform-origin:100% 0;">28.82%</div>
<div class="t" style="top:620.00px;font-size:14px;line-height:16.00px;color:#000;font-weight:bold;right:1076.40px;transform:scaleX(1.008);transform-origin:100% 0;">813,351</div>
<div class="t" style="top:620.00px;font-size:14px;line-height:16.00px;color:#000;font-weight:bold;right:1009.30px;transform:scaleX(1.008);transform-origin:100% 0;">88.59%</div>
<div class="t" style="top:620.00px;font-size:14px;line-height:16.00px;color:#000;font-weight:bold;right:915.50px;transform:scaleX(1.008);transform-origin:100% 0;">672,788</div>
<div class="t" style="top:620.00px;font-size:14px;line-height:16.00px;color:#000;font-weight:bold;right:817.40px;transform:scaleX(1.008);transform-origin:100% 0;">140,563</div>
<div class="t" style="top:620.00px;font-size:14px;line-height:16.00px;color:#000;font-weight:bold;right:744.20px;transform:scaleX(1.008);transform-origin:100% 0;">20.89%</div>
<div class="t" style="top:620.00px;font-size:14px;line-height:16.00px;color:#000;font-weight:bold;right:643.40px;transform:scaleX(1.008);transform-origin:100% 0;">3,759,878</div>
<div class="t" style="top:620.00px;font-size:14px;line-height:16.00px;color:#000;font-weight:bold;right:576.50px;transform:scaleX(1.008);transform-origin:100% 0;">88.14%</div>
<div class="t" style="top:620.00px;font-size:14px;line-height:16.00px;color:#000;font-weight:bold;right:482.70px;transform:scaleX(1.008);transform-origin:100% 0;">3,166,449</div>
<div class="t" style="top:620.00px;font-size:14px;line-height:16.00px;color:#000;font-weight:bold;right:384.60px;transform:scaleX(1.008);transform-origin:100% 0;">593,429</div>
<div class="t" style="top:620.00px;font-size:14px;line-height:16.00px;color:#000;font-weight:bold;right:309.20px;transform:scaleX(1.008);transform-origin:100% 0;">18.74%</div>
<div class="t" style="top:620.00px;font-size:14px;line-height:16.00px;color:#000;font-weight:bold;right:208.60px;transform:scaleX(1.008);transform-origin:100% 0;">3,019,472</div>
<div class="t" style="top:620.00px;font-size:14px;line-height:16.00px;color:#000;font-weight:bold;right:110.60px;transform:scaleX(1.008);transform-origin:100% 0;">740,406</div>
<div class="t" style="top:620.00px;font-size:14px;line-height:16.00px;color:#000;font-weight:bold;right:35.40px;transform:scaleX(1.008);transform-origin:100% 0;">24.52%</div>
<div class="t" style="top:639.00px;font-size:14px;line-height:16.00px;color:#000;font-weight:bold;font-style:italic;left:38.00px;transform:scaleX(0.987);transform-origin:0 0;">Gross Profit Margin</div>
<div class="t" style="top:639.00px;font-size:14px;line-height:16.00px;color:#000;font-weight:bold;font-style:italic;right:1512.60px;transform:scaleX(1.02);transform-origin:100% 0;">75.89%</div>
<div class="t" style="top:639.00px;font-size:14px;line-height:16.00px;color:#000;font-weight:bold;font-style:italic;right:1351.40px;transform:scaleX(1.02);transform-origin:100% 0;">72.24%</div>
<div class="t" style="top:639.00px;font-size:14px;line-height:16.00px;color:#000;font-weight:bold;font-style:italic;right:1076.40px;transform:scaleX(1.02);transform-origin:100% 0;">88.59%</div>
<div class="t" style="top:639.00px;font-size:14px;line-height:16.00px;color:#000;font-weight:bold;font-style:italic;right:915.50px;transform:scaleX(1.02);transform-origin:100% 0;">87.70%</div>
<div class="t" style="top:639.00px;font-size:14px;line-height:16.00px;color:#000;font-weight:bold;font-style:italic;right:643.40px;transform:scaleX(1.02);transform-origin:100% 0;">88.14%</div>
<div class="t" style="top:639.00px;font-size:14px;line-height:16.00px;color:#000;font-weight:bold;font-style:italic;right:482.70px;transform:scaleX(1.02);transform-origin:100% 0;">86.40%</div>
<div class="t" style="top:639.00px;font-size:14px;line-height:16.00px;color:#000;font-weight:bold;font-style:italic;right:208.60px;transform:scaleX(1.02);transform-origin:100% 0;">87.92%</div>
<div class="t" style="top:677.00px;font-size:14px;line-height:16.00px;color:#000;font-weight:bold;left:38.00px;transform:scaleX(1.008);transform-origin:0 0;">Operating Expenses</div>
<div class="r" style="left:36px;top:690px;width:218px;height:30px;overflow:hidden">
<div class="t" style="top:6.00px;font-size:14px;line-height:16.00px;color:#000;left:23.00px;transform:scaleX(1.015);transform-origin:0 0;">Advertising and Promotion Exp</div>
</div>
<div class="t" style="top:696.00px;font-size:14px;line-height:16.00px;color:#000;right:1512.60px;transform:scaleX(1.015);transform-origin:100% 0;">5,330</div>
<div class="t" style="top:696.00px;font-size:14px;line-height:16.00px;color:#000;right:1445.40px;transform:scaleX(1.015);transform-origin:100% 0;">1.45%</div>
<div class="t" style="top:696.00px;font-size:14px;line-height:16.00px;color:#000;right:1351.40px;transform:scaleX(1.015);transform-origin:100% 0;">5,334</div>
<div class="t" style="top:696.00px;font-size:14px;line-height:16.00px;color:#000;right:1249.30px;transform:scaleX(1.015);transform-origin:100% 0;">(4)</div>
<div class="t" style="top:696.00px;font-size:14px;line-height:16.00px;color:#000;right:1177.10px;transform:scaleX(1.015);transform-origin:100% 0;">-0.08%</div>
<div class="t" style="top:696.00px;font-size:14px;line-height:16.00px;color:#000;right:1076.40px;transform:scaleX(1.015);transform-origin:100% 0;">15,805</div>
<div class="t" style="top:696.00px;font-size:14px;line-height:16.00px;color:#000;right:1009.30px;transform:scaleX(1.015);transform-origin:100% 0;">1.72%</div>
<div class="t" style="top:696.00px;font-size:14px;line-height:16.00px;color:#000;right:915.50px;transform:scaleX(1.015);transform-origin:100% 0;">16,121</div>
<div class="t" style="top:696.00px;font-size:14px;line-height:16.00px;color:#000;right:813.20px;transform:scaleX(1.015);transform-origin:100% 0;">(316)</div>
<div class="t" style="top:696.00px;font-size:14px;line-height:16.00px;color:#000;right:744.20px;transform:scaleX(1.015);transform-origin:100% 0;">-1.96%</div>
<div class="t" style="top:696.00px;font-size:14px;line-height:16.00px;color:#000;right:643.40px;transform:scaleX(1.015);transform-origin:100% 0;">62,678</div>
<div class="t" style="top:696.00px;font-size:14px;line-height:16.00px;color:#000;right:576.50px;transform:scaleX(1.015);transform-origin:100% 0;">1.47%</div>
<div class="t" style="top:696.00px;font-size:14px;line-height:16.00px;color:#000;right:482.70px;transform:scaleX(1.015);transform-origin:100% 0;">64,968</div>
<div class="t" style="top:696.00px;font-size:14px;line-height:16.00px;color:#000;right:380.40px;transform:scaleX(1.015);transform-origin:100% 0;">(1,290)</div>
<div class="t" style="top:696.00px;font-size:14px;line-height:16.00px;color:#000;right:309.20px;transform:scaleX(1.015);transform-origin:100% 0;">-2.17%</div>
<div class="t" style="top:696.00px;font-size:14px;line-height:16.00px;color:#000;right:208.60px;transform:scaleX(1.015);transform-origin:100% 0;">63,170</div>
<div class="t" style="top:696.00px;font-size:14px;line-height:16.00px;color:#000;right:106.40px;transform:scaleX(1.015);transform-origin:100% 0;">(492)</div>
<div class="t" style="top:696.00px;font-size:14px;line-height:16.00px;color:#000;right:35.40px;transform:scaleX(1.015);transform-origin:100% 0;">-0.78%</div>
<div class="r" style="left:36.00px;top:617.90px;width:648.00px;height:1.20px;background:#000;"></div>
<div class="r" style="left:36.00px;top:637.00px;width:648.00px;height:1.20px;background:#000;"></div>
<div class="r" style="left:690.50px;top:617.90px;width:426.50px;height:1.20px;background:#000;"></div>
<div class="r" style="left:690.50px;top:637.00px;width:426.50px;height:1.20px;background:#000;"></div>
<div class="r" style="left:1123.50px;top:617.90px;width:428.50px;height:1.20px;background:#000;"></div>
<div class="r" style="left:1123.50px;top:637.00px;width:428.50px;height:1.20px;background:#000;"></div>
<div class="r" style="left:1558.20px;top:617.90px;width:267.80px;height:1.20px;background:#000;"></div>
<div class="r" style="left:1558.20px;top:637.00px;width:267.80px;height:1.20px;background:#000;"></div>
<svg class="r" style="left:352.6px;top:600.1px" width="7" height="7"><polygon points="0,0 6.5,0 0,6.5" fill="#16832b"/></svg>
<svg class="r" style="left:352.6px;top:619.1px" width="7" height="7"><polygon points="0,0 6.5,0 0,6.5" fill="#16832b"/></svg>
<svg class="r" style="left:788.8px;top:600.1px" width="7" height="7"><polygon points="0,0 6.5,0 0,6.5" fill="#16832b"/></svg>
<svg class="r" style="left:788.8px;top:619.1px" width="7" height="7"><polygon points="0,0 6.5,0 0,6.5" fill="#16832b"/></svg>
<svg class="r" style="left:1221.8px;top:600.1px" width="7" height="7"><polygon points="0,0 6.5,0 0,6.5" fill="#16832b"/></svg>
<svg class="r" style="left:1221.8px;top:619.1px" width="7" height="7"><polygon points="0,0 6.5,0 0,6.5" fill="#16832b"/></svg>
</div>
<div class="r" style="left:1px;top:3px;width:1857.5px;height:20.3px;background:#f0f0f0"></div>
<div class="r" style="left:2px;top:23px;width:33.2px;height:680px;background:#f0f0f0"></div>
<svg class="r" style="left:18px;top:5px" width="16" height="16"><polygon points="13.8,2.3 13.8,14.7 1.5,14.7" fill="#dedede"/></svg>
<div class="r" style="left:254.0px;top:4px;width:1px;height:19px;background:#dedede"></div>
<div class="ch" style="left:36.0px;width:218.5px">M</div>
<div class="r" style="left:351.8px;top:4px;width:1px;height:19px;background:#dedede"></div>
<div class="ch" style="left:254.5px;width:97.8px">N</div>
<div class="r" style="left:414.9px;top:4px;width:1px;height:19px;background:#dedede"></div>
<div class="ch" style="left:352.3px;width:63.1px">O</div>
<div class="r" style="left:513.0px;top:4px;width:1px;height:19px;background:#dedede"></div>
<div class="ch" style="left:415.4px;width:98.1px">P</div>
<div class="r" style="left:610.9px;top:4px;width:1px;height:19px;background:#dedede"></div>
<div class="ch" style="left:513.5px;width:97.9px">Q</div>
<div class="r" style="left:683.2px;top:4px;width:1px;height:19px;background:#dedede"></div>
<div class="ch" style="left:611.4px;width:72.3px">R</div>
<div class="r" style="left:690.0px;top:4px;width:1px;height:19px;background:#dedede"></div>
<div class="ch" style="left:684.5px;width:5.3px;justify-content:flex-start">S</div>
<div class="r" style="left:788.0px;top:4px;width:1px;height:19px;background:#dedede"></div>
<div class="ch" style="left:690.5px;width:98.0px">T</div>
<div class="r" style="left:851.0px;top:4px;width:1px;height:19px;background:#dedede"></div>
<div class="ch" style="left:788.5px;width:63.0px">U</div>
<div class="r" style="left:948.9px;top:4px;width:1px;height:19px;background:#dedede"></div>
<div class="ch" style="left:851.5px;width:97.9px">V</div>
<div class="r" style="left:1047.0px;top:4px;width:1px;height:19px;background:#dedede"></div>
<div class="ch" style="left:949.4px;width:98.1px">W</div>
<div class="r" style="left:1116.1px;top:4px;width:1px;height:19px;background:#dedede"></div>
<div class="ch" style="left:1047.5px;width:69.1px">X</div>
<div class="r" style="left:1123.0px;top:4px;width:1px;height:19px;background:#dedede"></div>
<div class="ch" style="left:1117.4px;width:5.4px;justify-content:flex-start">Y</div>
<div class="r" style="left:1221.0px;top:4px;width:1px;height:19px;background:#dedede"></div>
<div class="ch" style="left:1123.5px;width:98.0px">Z</div>
<div class="r" style="left:1283.8px;top:4px;width:1px;height:19px;background:#dedede"></div>
<div class="ch" style="left:1221.5px;width:62.8px">AA</div>
<div class="r" style="left:1381.7px;top:4px;width:1px;height:19px;background:#dedede"></div>
<div class="ch" style="left:1284.3px;width:97.9px">AB</div>
<div class="r" style="left:1479.8px;top:4px;width:1px;height:19px;background:#dedede"></div>
<div class="ch" style="left:1382.2px;width:98.1px">AC</div>
<div class="r" style="left:1551.1px;top:4px;width:1px;height:19px;background:#dedede"></div>
<div class="ch" style="left:1480.3px;width:71.3px">AD</div>
<div class="r" style="left:1557.7px;top:4px;width:1px;height:19px;background:#dedede"></div>
<div class="ch" style="left:1552.4px;width:5.1px;justify-content:flex-start">AE</div>
<div class="r" style="left:1655.8px;top:4px;width:1px;height:19px;background:#dedede"></div>
<div class="ch" style="left:1558.2px;width:98.1px">AF</div>
<div class="r" style="left:1753.8px;top:4px;width:1px;height:19px;background:#dedede"></div>
<div class="ch" style="left:1656.3px;width:98.0px">AG</div>
<div class="r" style="left:1824.9px;top:4px;width:1px;height:19px;background:#dedede"></div>
<div class="ch" style="left:1754.3px;width:71.1px">AH</div>
<div class="r" style="left:1831.6px;top:4px;width:1px;height:19px;background:#dedede"></div>
<div class="ch" style="left:1826.2px;width:5.2px;justify-content:flex-start">AI</div>
<div class="rh" style="top:24.0px;height:30.5px"><span style="top:9.9px">6</span></div>
<div class="r" style="left:2px;top:54.0px;width:33px;height:1px;background:#dedede"></div>
<div class="rh" style="top:54.5px;height:21.0px"><span style="top:2.1px">7</span></div>
<div class="r" style="left:2px;top:75.0px;width:33px;height:1px;background:#dedede"></div>
<div class="rh" style="top:75.5px;height:19.0px"><span style="top:0.1px">8</span></div>
<div class="r" style="left:2px;top:94.0px;width:33px;height:1px;background:#dedede"></div>
<div class="rh" style="top:94.5px;height:19.0px"><span style="top:0.1px">9</span></div>
<div class="r" style="left:2px;top:113.0px;width:33px;height:1px;background:#dedede"></div>
<div class="rh" style="top:113.5px;height:19.0px"><span style="top:0.1px">10</span></div>
<div class="r" style="left:2px;top:132.0px;width:33px;height:1px;background:#dedede"></div>
<div class="rh" style="top:132.5px;height:7.0px"><span style="top:-11.9px">11</span></div>
<div class="r" style="left:2px;top:139.0px;width:33px;height:1px;background:#dedede"></div>
<div class="rh" style="top:139.5px;height:21.0px"><span style="top:2.1px">12</span></div>
<div class="r" style="left:2px;top:160.0px;width:33px;height:1px;background:#dedede"></div>
<div class="rh" style="top:160.5px;height:19.0px"><span style="top:0.1px">13</span></div>
<div class="r" style="left:2px;top:179.0px;width:33px;height:1px;background:#dedede"></div>
<div class="rh" style="top:179.5px;height:19.0px"><span style="top:0.1px">14</span></div>
<div class="r" style="left:2px;top:198.0px;width:33px;height:1px;background:#dedede"></div>
<div class="rh" style="top:198.5px;height:19.0px"><span style="top:0.1px">15</span></div>
<div class="r" style="left:2px;top:217.0px;width:33px;height:1px;background:#dedede"></div>
<div class="rh" style="top:217.5px;height:19.0px"><span style="top:0.1px">16</span></div>
<div class="r" style="left:2px;top:236.0px;width:33px;height:1px;background:#dedede"></div>
<div class="rh" style="top:236.5px;height:19.0px"><span style="top:0.1px">17</span></div>
<div class="r" style="left:2px;top:255.0px;width:33px;height:1px;background:#dedede"></div>
<div class="rh" style="top:255.5px;height:19.0px"><span style="top:0.1px">18</span></div>
<div class="r" style="left:2px;top:274.0px;width:33px;height:1px;background:#dedede"></div>
<div class="rh" style="top:274.5px;height:19.0px"><span style="top:0.1px">19</span></div>
<div class="r" style="left:2px;top:293.0px;width:33px;height:1px;background:#dedede"></div>
<div class="rh" style="top:293.5px;height:19.0px"><span style="top:0.1px">20</span></div>
<div class="r" style="left:2px;top:312.0px;width:33px;height:1px;background:#dedede"></div>
<div class="rh" style="top:312.5px;height:20.5px"><span style="top:1.6px">21</span></div>
<div class="r" style="left:2px;top:332.5px;width:33px;height:1px;background:#dedede"></div>
<div class="rh" style="top:333.0px;height:19.0px"><span style="top:0.1px">22</span></div>
<div class="r" style="left:2px;top:351.5px;width:33px;height:1px;background:#dedede"></div>
<div class="rh" style="top:352.0px;height:76.5px"><span style="top:57.6px">23</span></div>
<div class="r" style="left:2px;top:428.0px;width:33px;height:1px;background:#dedede"></div>
<div class="rh" style="top:428.5px;height:19.0px"><span style="top:0.1px">24</span></div>
<div class="r" style="left:2px;top:445.2px;width:33px;height:1px;background:#dedede"></div>
<div class="r" style="left:2px;top:448.7px;width:33px;height:1px;background:#dedede"></div>
<div class="rh" style="top:447.5px;height:19.0px"><span style="top:0.1px">29</span></div>
<div class="r" style="left:2px;top:464.2px;width:33px;height:1px;background:#dedede"></div>
<div class="r" style="left:2px;top:467.7px;width:33px;height:1px;background:#dedede"></div>
<div class="rh" style="top:466.5px;height:19.0px"><span style="top:0.1px">32</span></div>
<div class="r" style="left:2px;top:483.2px;width:33px;height:1px;background:#dedede"></div>
<div class="r" style="left:2px;top:486.7px;width:33px;height:1px;background:#dedede"></div>
<div class="rh" style="top:485.5px;height:19.0px"><span style="top:0.1px">34</span></div>
<div class="r" style="left:2px;top:502.2px;width:33px;height:1px;background:#dedede"></div>
<div class="r" style="left:2px;top:505.7px;width:33px;height:1px;background:#dedede"></div>
<div class="rh" style="top:504.5px;height:19.0px"><span style="top:0.1px">42</span></div>
<div class="r" style="left:2px;top:523.0px;width:33px;height:1px;background:#dedede"></div>
<div class="rh" style="top:523.5px;height:19.0px"><span style="top:0.1px">43</span></div>
<div class="r" style="left:2px;top:540.2px;width:33px;height:1px;background:#dedede"></div>
<div class="r" style="left:2px;top:543.7px;width:33px;height:1px;background:#dedede"></div>
<div class="rh" style="top:542.5px;height:19.0px"><span style="top:0.1px">45</span></div>
<div class="r" style="left:2px;top:559.2px;width:33px;height:1px;background:#dedede"></div>
<div class="r" style="left:2px;top:562.7px;width:33px;height:1px;background:#dedede"></div>
<div class="rh" style="top:561.5px;height:19.0px"><span style="top:0.1px">49</span></div>
<div class="r" style="left:2px;top:578.2px;width:33px;height:1px;background:#dedede"></div>
<div class="r" style="left:2px;top:581.7px;width:33px;height:1px;background:#dedede"></div>
<div class="rh" style="top:580.5px;height:19.0px"><span style="top:0.1px">52</span></div>
<div class="r" style="left:2px;top:597.2px;width:33px;height:1px;background:#dedede"></div>
<div class="r" style="left:2px;top:600.7px;width:33px;height:1px;background:#dedede"></div>
<div class="rh" style="top:599.5px;height:19.0px"><span style="top:0.1px">66</span></div>
<div class="r" style="left:2px;top:618.0px;width:33px;height:1px;background:#dedede"></div>
<div class="rh" style="top:618.5px;height:19.0px"><span style="top:0.1px">67</span></div>
<div class="r" style="left:2px;top:637.0px;width:33px;height:1px;background:#dedede"></div>
<div class="rh" style="top:637.5px;height:19.0px"><span style="top:0.1px">68</span></div>
<div class="r" style="left:2px;top:656.0px;width:33px;height:1px;background:#dedede"></div>
<div class="rh" style="top:656.5px;height:19.0px"><span style="top:0.1px">69</span></div>
<div class="r" style="left:2px;top:675.0px;width:33px;height:1px;background:#dedede"></div>
<div class="rh" style="top:675.5px;height:19.0px"><span style="top:0.1px">70</span></div>
<div class="r" style="left:2px;top:694.0px;width:33px;height:1px;background:#dedede"></div>
<div class="rh" style="top:694.5px;height:8.5px"><span style="top:-1.2px">71</span></div>
<div class="r" style="left:1px;top:2px;width:34px;height:2px;background:#f0f0f0"></div>
<div class="r" style="left:2px;top:25px;width:33px;height:1px;background:#e6e6e6"></div>
<div class="r" style="left:36.7px;top:3.3px;width:1px;height:19.7px;background:#e3e3e3"></div>
<div class="r" style="left:35px;top:23px;width:1823.5px;height:1.2px;background:#9c9c9c"></div>
<div class="r" style="left:35px;top:23px;width:1.2px;height:680px;background:#9c9c9c"></div>
<div class="r" style="left:254px;top:0;width:1.2px;height:703px;background:#8c8c8c"></div>
<div class="r" style="left:0;top:427.8px;width:1858.5px;height:1.2px;background:#8c8c8c"></div>
<svg class="r" style="left:1170px;top:20px" width="250" height="75" viewBox="0 0 1880 564">
<defs>
<linearGradient id="gArm" gradientUnits="userSpaceOnUse" x1="-300" y1="0" x2="0" y2="0"><stop offset="0" stop-color="#82c0fc"/><stop offset="0.45" stop-color="#74aef2"/><stop offset="1" stop-color="#3f5a9e"/></linearGradient>
<linearGradient id="gArm2" gradientUnits="userSpaceOnUse" x1="300" y1="0" x2="0" y2="0"><stop offset="0" stop-color="#82c0fc"/><stop offset="0.45" stop-color="#74aef2"/><stop offset="1" stop-color="#3f5a9e"/></linearGradient>
<linearGradient id="gArmV" gradientUnits="userSpaceOnUse" x1="0" y1="-300" x2="0" y2="0"><stop offset="0" stop-color="#82c0fc"/><stop offset="0.45" stop-color="#74aef2"/><stop offset="1" stop-color="#3f5a9e"/></linearGradient>
<linearGradient id="gArmV2" gradientUnits="userSpaceOnUse" x1="0" y1="300" x2="0" y2="0"><stop offset="0" stop-color="#82c0fc"/><stop offset="0.45" stop-color="#74aef2"/><stop offset="1" stop-color="#3f5a9e"/></linearGradient>
<linearGradient id="gA1" gradientUnits="userSpaceOnUse" x1="-152" y1="152" x2="152" y2="-152"><stop offset="0" stop-color="#2bf79c"/><stop offset="0.12" stop-color="#30f2a2"/><stop offset="0.42" stop-color="#62d2d2"/><stop offset="0.62" stop-color="#8d9cfa"/><stop offset="0.82" stop-color="#4a70f8"/><stop offset="1" stop-color="#2957f6"/></linearGradient>

<linearGradient id="gB1" gradientUnits="userSpaceOnUse" x1="-152" y1="152" x2="152" y2="-152"><stop offset="0" stop-color="#2a53f6"/><stop offset="0.2" stop-color="#2f62f3"/><stop offset="0.45" stop-color="#3a92e4"/><stop offset="0.7" stop-color="#3fc6c6"/><stop offset="1" stop-color="#41eeaa"/></linearGradient>

</defs>
<g transform="translate(338 273.2) scale(0.978 0.968) rotate(45)">
<rect x="-233.5" y="-83" width="275" height="166" rx="34" fill="url(#gArm)"/>
<rect x="-41.5" y="-83" width="275" height="166" rx="34" fill="url(#gArm2)"/>
<rect x="-83" y="-233.5" width="166" height="275" rx="34" fill="url(#gArmV)"/>
<rect x="-83" y="-41.5" width="166" height="275" rx="34" fill="url(#gArmV2)"/>
<path d="M233.5,49.0 Q233.5,83.0 199.5,83.0 L27.0,83.0 Q13.0,83.0 13.0,97.0 L13.0,199.5 Q13.0,233.5 -21.0,233.5 L-49.0,233.5 Q-83.0,233.5 -83.0,199.5 L-83.0,38.0 Q-83.0,-2.0 -43.4,-7.9 L199.9,-44.0 Q233.5,-49.0 233.5,-15.0 Z" fill="url(#gB1)"/>
<path d="M-233.5,-49.0 Q-233.5,-83.0 -199.5,-83.0 L-27.0,-83.0 Q-13.0,-83.0 -13.0,-97.0 L-13.0,-199.5 Q-13.0,-233.5 21.0,-233.5 L49.0,-233.5 Q83.0,-233.5 83.0,-199.5 L83.0,-38.0 Q83.0,2.0 43.4,7.9 L-199.9,44.0 Q-233.5,49.0 -233.5,15.0 Z" fill="url(#gA1)"/>
</g>
<!-- wordmark -->
<g fill="#232f5e">
<polygon points="640,136 708,136 787,342 866,136 931,136 826,425 745,425"/>
<path d="M1008,205 a108,113 0 1 0 0,227 c52,0 88,-28 104,-62 l-62,-28 c-8,16 -22,26 -42,26 c-28,0 -46,-18 -50,-44 h160 c2,-10 2,-16 2,-24 c0,-58 -44,-95 -112,-95 z M1008,262 c26,0 42,14 46,36 h-94 c6,-22 22,-36 48,-36 z" fill-rule="evenodd"/>
<rect x="1145" y="125" width="56" height="300"/>
<rect x="1240" y="215" width="56" height="210"/>
<circle cx="1268" cy="156" r="37"/>
<polygon points="1318,215 1388,215 1422,272 1456,215 1526,215 1460,318 1530,425 1460,425 1422,364 1384,425 1314,425 1384,318"/>
<path d="M1635,205 a110,113.5 0 1 0 0.01,0 z M1635,268 a46,50.5 0 1 1 -0.01,0 z" fill-rule="evenodd"/>
</g>
</svg>

<div class="r" style="left:10.00px;top:135.10px;width:431.40px;height:4.75px;background:#e51a1c;"></div>
<div class="r" style="left:10.00px;top:325.90px;width:431.40px;height:4.80px;background:#e51a1c;"></div>
<div class="r" style="left:10.00px;top:135.10px;width:4.70px;height:195.60px;background:#e51a1c;"></div>
<div class="r" style="left:436.30px;top:135.10px;width:5.10px;height:195.60px;background:#e51a1c;"></div>
<div class="r" style="left:1858.6px;top:0;width:21.4px;height:703px;background:#f0f0f0"></div>
<div class="r" style="left:1858.6px;top:24px;width:1px;height:679px;background:#e4e4e4"></div>
<div class="r" style="left:1861.7px;top:-20px;width:17.1px;height:724.9px;background:#f5f5f5;border-radius:5.5px;z-index:3"></div>
<div class="r" style="left:1866px;top:-6px;width:9.2px;height:27px;background:#6f6f6f;border-radius:4.6px;z-index:4"></div>
<svg class="r" style="left:1864px;top:690px;z-index:4" width="14" height="12"><polygon points="2,3.3 11,3.3 6.5,9.9" fill="#6e6e6e"/></svg>
<div class="r" style="left:0;top:703px;width:1880px;height:34px;background:#f0f0f0"></div>
<div class="r" style="left:0;top:703px;width:1880px;height:1px;background:#e7e7e7"></div>
<div class="r" style="left:0;top:734.5px;width:1880px;height:3px;background:#fcfcfc"></div>
<svg class="r" style="left:18px;top:710px" width="14" height="18"><polyline points="4.3,4.2 10.6,8.5 4.3,12.8" fill="none" stroke="#5a5a5a" stroke-width="1.1"/></svg>
<div class="r" style="left:76.6px;top:703.6px;width:96.8px;height:27.6px;background:linear-gradient(#ffffff 0%,#f6f7ff 22%,#d3dbfd 62%,#a9b8fa 100%);border:1.4px solid #fdfdff;border-radius:5.5px;box-sizing:border-box;box-shadow:0 0.5px 2px rgba(0,0,0,0.22)"></div>
<div class="t" style="left:85.3px;top:708px;font-size:14px;line-height:17px;color:#262626;-webkit-text-stroke:0.2px #262626;transform:scaleX(1.01);transform-origin:0 0" id="tab1">Profit &amp; Loss</div>
<div class="r" style="left:85.3px;top:725.6px;width:80px;height:2.2px;background:#12803c"></div>
<div class="r" style="left:177.3px;top:710px;width:1px;height:18px;background:#c6c6c6"></div>
<div class="r" style="left:182px;top:707px;width:63.2px;height:24px;background:#f4645a;border-radius:4.5px"></div>
<div class="t" style="left:190.2px;top:711px;font-size:14px;line-height:17px;color:#000" id="tab2">Control</div>
<div class="r" style="left:249.2px;top:710px;width:1px;height:18px;background:#c6c6c6"></div>
<div class="r" style="left:253.8px;top:707px;width:66.2px;height:24px;background:#808080;border-radius:4.5px"></div>
<div class="t" style="left:262.8px;top:711px;font-size:14px;line-height:17px;color:#fff;transform:scaleX(1.02);transform-origin:0 0" id="tab3">Options</div>
<div class="r" style="left:324.2px;top:710px;width:1px;height:18px;background:#c6c6c6"></div>
<div class="r" style="left:328.9px;top:707px;width:92.4px;height:24px;background:#808080;border-radius:4.5px"></div>
<div class="t" style="left:339.3px;top:711px;font-size:14px;line-height:17px;color:#fff;transform:scaleX(1.03);transform-origin:0 0" id="tab4">Information</div>
<div class="r" style="left:425.2px;top:710px;width:1px;height:18px;background:#c6c6c6"></div>
<svg class="r" style="left:466px;top:711px" width="15" height="15"><path d="M2.2,7.4 H13 M7.6,2 V12.8" stroke="#333" stroke-width="1.1" fill="none"/></svg>
<svg class="r" style="left:1112px;top:712px" width="8" height="16"><g fill="#f9f9f9"><rect x="2" y="2" width="4" height="4" rx="1"/><rect x="2" y="6" width="4" height="4" rx="1"/><rect x="2" y="10" width="4" height="4" rx="1"/></g><g fill="#111"><rect x="3" y="3" width="2" height="2"/><rect x="3" y="7" width="2" height="2"/><rect x="3" y="11" width="2" height="2"/></g></svg>
<div class="r" style="left:1132.5px;top:710px;width:727px;height:17px;background:#f5f5f5;border-radius:8.5px"></div>
<svg class="r" style="left:1134px;top:711px" width="12" height="14"><polygon points="10.1,3.1 10.1,12 2.9,7.55" fill="#6f6f6f" stroke="#6f6f6f" stroke-width="0.6" stroke-linejoin="round"/></svg>
<div class="r" style="left:1149px;top:714px;width:640px;height:9.2px;background:#6f6f6f;border-radius:4.6px"></div>
<svg class="r" style="left:1845px;top:711px" width="12" height="14"><polygon points="2.9,3.1 2.9,12 10.1,7.55" fill="#6f6f6f" stroke="#6f6f6f" stroke-width="0.6" stroke-linejoin="round"/></svg>
<div class="r" style="left:1581px;top:736px;width:40px;height:1px;background:#dcdcdc"></div>

</body></html>
